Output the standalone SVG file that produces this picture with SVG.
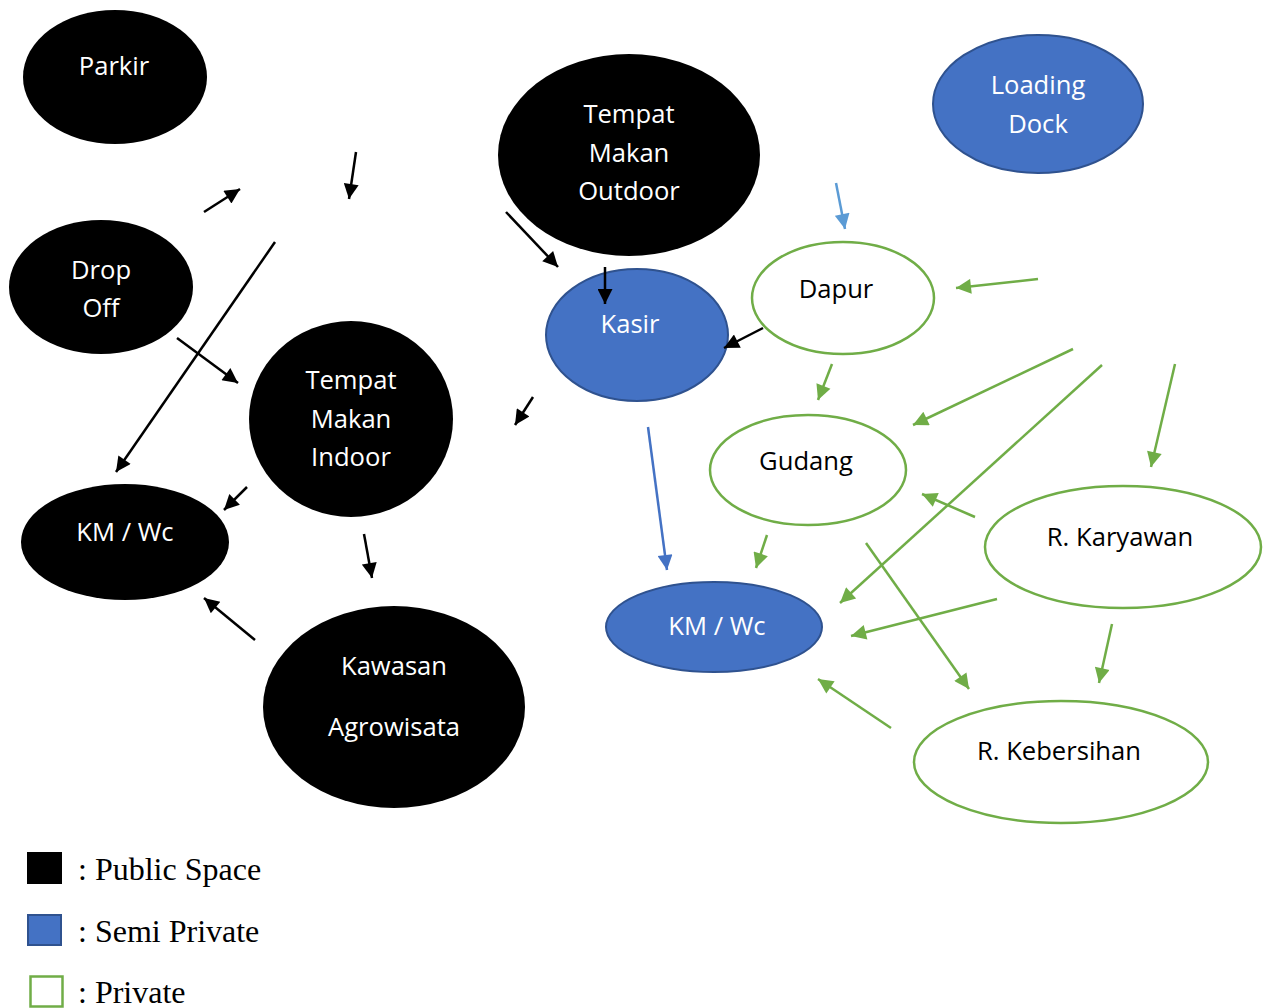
<svg xmlns="http://www.w3.org/2000/svg" width="1270" height="1008" viewBox="0 0 1270 1008">
<style>
.pub{fill:#000}
.semi{fill:#4472C4;stroke:#2F528F;stroke-width:2}
.priv{fill:#fff;stroke:#70AD47;stroke-width:2.5}
.t{font-family:"Open Sans","DejaVu Sans",sans-serif;font-size:25.6px;text-anchor:middle}
.w{fill:#fff}
.k{fill:#000}
.cb{stroke:#000;stroke-width:2.5;fill:none}
.cl{stroke:#5B9BD5;stroke-width:2.5;fill:none}
.cd{stroke:#4472C4;stroke-width:2.5;fill:none}
.cg{stroke:#70AD47;stroke-width:2.5;fill:none}
.lg{font-family:"Liberation Serif","Times New Roman",serif;font-size:32px;fill:#000}
</style>
<defs>
<marker id="ab" viewBox="0 0 10 10" refX="10" refY="5" markerWidth="19" markerHeight="15" markerUnits="userSpaceOnUse" orient="auto"><path d="M0,0L10,5L0,10z" fill="#000"/></marker>
<marker id="al" viewBox="0 0 10 10" refX="10" refY="5" markerWidth="19" markerHeight="15" markerUnits="userSpaceOnUse" orient="auto"><path d="M0,0L10,5L0,10z" fill="#5B9BD5"/></marker>
<marker id="ad" viewBox="0 0 10 10" refX="10" refY="5" markerWidth="19" markerHeight="15" markerUnits="userSpaceOnUse" orient="auto"><path d="M0,0L10,5L0,10z" fill="#4472C4"/></marker>
<marker id="ag" viewBox="0 0 10 10" refX="10" refY="5" markerWidth="19" markerHeight="15" markerUnits="userSpaceOnUse" orient="auto"><path d="M0,0L10,5L0,10z" fill="#70AD47"/></marker>
</defs>
<g id="parkir"><ellipse class="pub" cx="115" cy="77" rx="92" ry="67"/><text class="t w" x="114" y="75">Parkir</text></g>
<g id="tempat-makan-outdoor"><ellipse class="pub" cx="629" cy="155" rx="131" ry="101"/><text class="t w" x="629" y="123">Tempat</text><text class="t w" x="629" y="162">Makan</text><text class="t w" x="629" y="200">Outdoor</text></g>
<g id="loading-dock"><ellipse class="semi" cx="1038" cy="104" rx="105" ry="69"/><text class="t w" x="1038" y="94">Loading</text><text class="t w" x="1038" y="133">Dock</text></g>
<g id="drop-off"><ellipse class="pub" cx="101" cy="287" rx="92" ry="67"/><text class="t w" x="101" y="279">Drop</text><text class="t w" x="101" y="317">Off</text></g>
<g id="kasir"><ellipse class="semi" cx="637" cy="335" rx="91" ry="66"/><text class="t w" x="630" y="333">Kasir</text></g>
<g id="dapur"><ellipse class="priv" cx="843" cy="298" rx="91" ry="56"/><text class="t k" x="836" y="298">Dapur</text></g>
<g id="tempat-makan-indoor"><ellipse class="pub" cx="351" cy="419" rx="102" ry="98"/><text class="t w" x="351" y="389">Tempat</text><text class="t w" x="351" y="428">Makan</text><text class="t w" x="351" y="466">Indoor</text></g>
<g id="gudang"><ellipse class="priv" cx="808" cy="470" rx="98" ry="55"/><text class="t k" x="806" y="470">Gudang</text></g>
<g id="km-wc-public"><ellipse class="pub" cx="125" cy="542" rx="104" ry="58"/><text class="t w" x="125" y="541">KM / Wc</text></g>
<g id="r-karyawan"><ellipse class="priv" cx="1123" cy="547" rx="138" ry="61"/><text class="t k" x="1120" y="546">R. Karyawan</text></g>
<g id="km-wc-semi"><ellipse class="semi" cx="714" cy="627" rx="108" ry="45"/><text class="t w" x="717" y="635">KM / Wc</text></g>
<g id="kawasan-agrowisata"><ellipse class="pub" cx="394" cy="707" rx="131" ry="101"/><text class="t w" x="394" y="675">Kawasan</text><text class="t w" x="394" y="736">Agrowisata</text></g>
<g id="r-kebersihan"><ellipse class="priv" cx="1061" cy="762" rx="147" ry="61"/><text class="t k" x="1059" y="760">R. Kebersihan</text></g>
<g id="connectors">
<line class="cb" x1="204" y1="212" x2="240" y2="189" marker-end="url(#ab)"/>
<line class="cb" x1="356" y1="152" x2="349" y2="199" marker-end="url(#ab)"/>
<line class="cb" x1="275" y1="242" x2="116" y2="472" marker-end="url(#ab)"/>
<line class="cb" x1="177" y1="338" x2="238" y2="383" marker-end="url(#ab)"/>
<line class="cb" x1="506" y1="212" x2="558" y2="267" marker-end="url(#ab)"/>
<line class="cb" x1="605" y1="267" x2="605" y2="304" marker-end="url(#ab)"/>
<line class="cb" x1="763" y1="328" x2="724" y2="348" marker-end="url(#ab)"/>
<line class="cb" x1="533" y1="397" x2="515" y2="425" marker-end="url(#ab)"/>
<line class="cb" x1="247" y1="487" x2="224" y2="510" marker-end="url(#ab)"/>
<line class="cb" x1="364" y1="534" x2="372" y2="578" marker-end="url(#ab)"/>
<line class="cb" x1="255" y1="640" x2="204" y2="598" marker-end="url(#ab)"/>
<line class="cl" x1="836" y1="183" x2="845" y2="229" marker-end="url(#al)"/>
<line class="cd" x1="648" y1="427" x2="667" y2="570" marker-end="url(#ad)"/>
<line class="cg" x1="1038" y1="279" x2="956" y2="288" marker-end="url(#ag)"/>
<line class="cg" x1="832" y1="364" x2="818" y2="400" marker-end="url(#ag)"/>
<line class="cg" x1="1073" y1="349" x2="913" y2="425" marker-end="url(#ag)"/>
<line class="cg" x1="1102" y1="365" x2="840" y2="603" marker-end="url(#ag)"/>
<line class="cg" x1="1175" y1="364" x2="1151" y2="467" marker-end="url(#ag)"/>
<line class="cg" x1="975" y1="517" x2="922" y2="494" marker-end="url(#ag)"/>
<line class="cg" x1="767" y1="535" x2="756" y2="568" marker-end="url(#ag)"/>
<line class="cg" x1="866" y1="543" x2="969" y2="689" marker-end="url(#ag)"/>
<line class="cg" x1="997" y1="599" x2="851" y2="636" marker-end="url(#ag)"/>
<line class="cg" x1="1112" y1="624" x2="1099" y2="683" marker-end="url(#ag)"/>
<line class="cg" x1="891" y1="728" x2="818" y2="679" marker-end="url(#ag)"/>
</g>
<g id="legend">
<rect x="27" y="852" width="35" height="32" fill="#000"/>
<text class="lg" x="78" y="880">: Public Space</text>
<rect x="28" y="915" width="33" height="30" fill="#4472C4" stroke="#2F528F" stroke-width="2"/>
<text class="lg" x="78" y="942">: Semi Private</text>
<rect x="30.5" y="976.5" width="32" height="30" fill="#fff" stroke="#70AD47" stroke-width="2.5"/>
<text class="lg" x="78" y="1003">: Private</text>
</g>
</svg>
